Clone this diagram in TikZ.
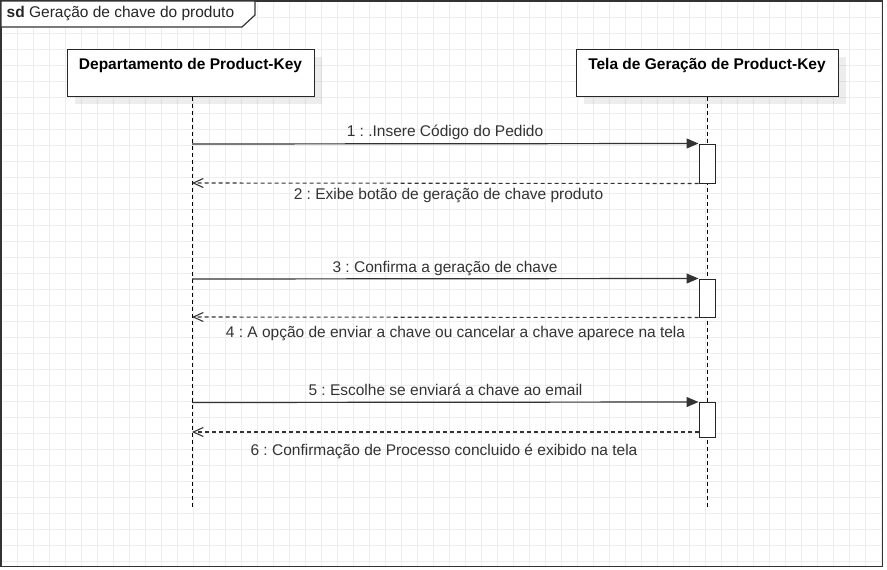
\documentclass[tikz,border=0pt]{standalone}
\usepackage{fontspec}
\setmainfont{Liberation Sans}
\usetikzlibrary{arrows.meta,shadows}
\frenchspacing
\begin{document}
\begin{tikzpicture}[x=1pt,y=-1pt,
  gridline/.style={draw=black!7, line width=0.8pt},
  frameline/.style={draw=black!80, line width=1.2pt},
  headbox/.style={draw=black!85, fill=white, line width=1pt, minimum height=47pt, inner sep=0pt,
    drop shadow={shadow xshift=8pt, shadow yshift=-8pt, fill=black, opacity=0.07}},
  headtext/.style={font=\bfseries\fontsize{15.5}{18}\selectfont, text=black, anchor=base, inner sep=0pt},
  lifeline/.style={draw=black, line width=1pt, dash pattern=on 4pt off 3pt},
  actbox/.style={draw=black!85, fill=white, line width=1pt, minimum width=16pt, inner sep=0pt},
  msg/.style={draw=black!80, line width=1.2pt, -{Triangle[length=12pt,width=10pt]}},
  ret/.style={draw=black!80, line width=1.1pt, dash pattern=on 4pt off 3pt, -{Straight Barb[length=10pt,width=9pt]}},
  msglabel/.style={font=\fontsize{15.5}{18}\selectfont, text=black!80, anchor=base, inner sep=0pt},
  sdlabel/.style={font=\fontsize{15.5}{18}\selectfont, text=black!85, anchor=base west, inner sep=0pt}
]
\useasboundingbox (0,0) rectangle (887,570);
\fill[white] (0,0) rectangle (887,570);
% grid
\foreach \i in {0,...,55} \draw[gridline] ({1+16*\i},1) -- ({1+16*\i},566);
\foreach \j in {0,...,35} \draw[gridline] (1,{1+16*\j}) -- (882,{1+16*\j});
% frame
\draw[frameline] (1,1) rectangle (882.5,566.5);
\draw[frameline, fill=white] (1,1) -- (255,1) -- (255,15) -- (242,27) -- (1,27) -- cycle;
\node[sdlabel] (sd) at (6.5,17.7) {\textbf{sd} Geração de chave do produto};
% heads
\node[headbox, minimum width=247pt] (depA) at (190.5,72.5) {};
\node[headtext] (depAt) at (190.5,69) {Departamento de Product-Key};
\node[headbox, minimum width=262pt] (telaB) at (707,72.5) {};
\node[headtext] (telaBt) at (707,69) {Tela de Geração de Product-Key};
% lifelines
\coordinate (endA) at (192,509);
\coordinate (endB) at (707.5,509);
\draw[lifeline] (depA.south -| endA) -- (endA);
\draw[lifeline] (telaB.south -| endB) -- (endB);
% activations
\node[actbox, minimum height=39pt] (act1) at (707,163.5) {};
\node[actbox, minimum height=38pt] (act2) at (707,298) {};
\node[actbox, minimum height=34.5pt] (act3) at (707,419.75) {};
% messages
\coordinate (s1) at (192,144);
\coordinate (e2) at (192,183);
\coordinate (s3) at (192,279);
\coordinate (e4) at (192,317);
\coordinate (s5) at (192,402.5);
\coordinate (e6) at (192,432);
\draw[msg] (s1) -- (act1.north west);
\draw[ret] (act1.south west) -- (e2);
\draw[msg] (s3) -- (act2.north west);
\draw[ret] (act2.south west) -- (e4);
\draw[msg] (s5) -- (act3.north west);
\draw[ret] (act3.west |- e6) -- (e6);
% labels
\node[msglabel] (t1) at (445,136.5) {1 : .Insere Código do Pedido};
\node[msglabel] (t2) at (448.5,199.5) {2 : Exibe botão de geração de chave produto};
\node[msglabel] (t3) at (445,272) {3 : Confirma a geração de chave};
\node[msglabel] (t4) at (455.5,337) {4 : A opção de enviar a chave ou cancelar a chave aparece na tela};
\node[msglabel] (t5) at (445.5,395) {5 : Escolhe se enviará a chave ao email};
\node[msglabel] (t6) at (444,455) {6 : Confirmação de Processo concluido é exibido na tela};
\end{tikzpicture}
\end{document}
